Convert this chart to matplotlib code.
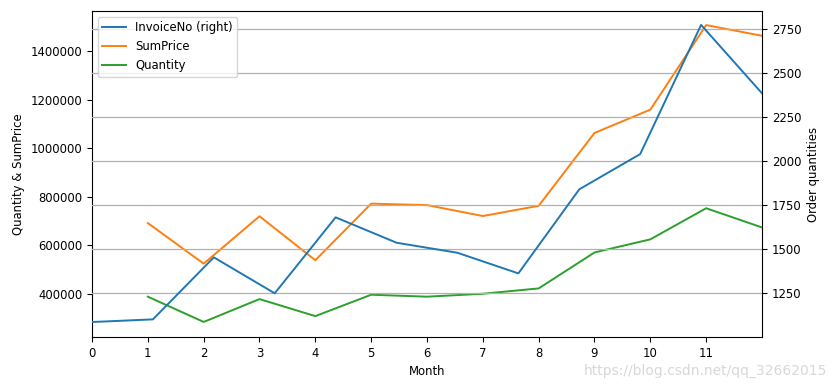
import numpy as np
import matplotlib
matplotlib.use('Agg')
import matplotlib.pyplot as plt
from matplotlib.ticker import ScalarFormatter

# monthly sales summary
months = [1, 2, 3, 4, 5, 6, 7, 8, 9, 10, 11, 12]
sum_price = [692000, 525000, 720000, 539000, 772000, 766000, 721000, 763000,
             1063000, 1159000, 1507000, 1463000]
quantity = [389000, 285000, 379000, 309000, 397000, 389000, 401000, 423000,
            571000, 625000, 753000, 674000]

invoice_idx = [0, 1, 2, 3, 4, 5, 6, 7, 8, 9, 10, 11]
invoice_no = [1087, 1102, 1454, 1250, 1681, 1537, 1480, 1363,
              1840, 2040, 2773, 2385]

xticks = [0, 1, 2, 3, 4, 5, 6, 7, 8, 9, 10, 11]

plt.rcParams['font.size'] = 8.4

fig = plt.figure(figsize=(8.37, 3.85), dpi=100)
rect = [92/837, 48/385, 670/837, 326/385]
ax = fig.add_axes(rect)
l_sum, = ax.plot(months, sum_price, color='#ff7f0e', lw=1.4, label='SumPrice')
l_qty, = ax.plot(months, quantity, color='#2ca02c', lw=1.4, label='Quantity')
ax.set_xlim(0, 12)
ax.set_ylim(223000, 1565000)
ax.set_xticks(xticks)
fmt = ScalarFormatter(useOffset=False)
fmt.set_scientific(False)
ax.yaxis.set_major_formatter(fmt)
ax.set_xlabel('Month')
ax.set_ylabel('Quantity & SumPrice')

# secondary axis with its own x range (0..11), like the original output
ax2 = fig.add_axes(rect, frameon=False)
l_inv, = ax2.plot(invoice_idx, invoice_no, color='#1f77b4', lw=1.4,
                  label='InvoiceNo (right)')
ax2.set_xlim(0, 11)
ax2.set_ylim(1002, 2852)
ax2.xaxis.set_visible(False)
ax2.yaxis.tick_right()
ax2.yaxis.set_label_position('right')
ax2.set_yticks([1250, 1500, 1750, 2000, 2250, 2500, 2750])
ax2.set_ylabel('Order quantities')
ax2.grid(True, axis='y', color='#b0b0b0', lw=0.9)
ax2.set_axisbelow(True)

ax2.legend(handles=[l_inv, l_sum, l_qty], loc='upper left')

fig.text(0.988, 0.018, 'https://blog.csdn.net/qq_32662015', ha='right',
         va='bottom', fontsize=10, color='#d8d8d8')

fig.savefig('out.png', dpi=100)
